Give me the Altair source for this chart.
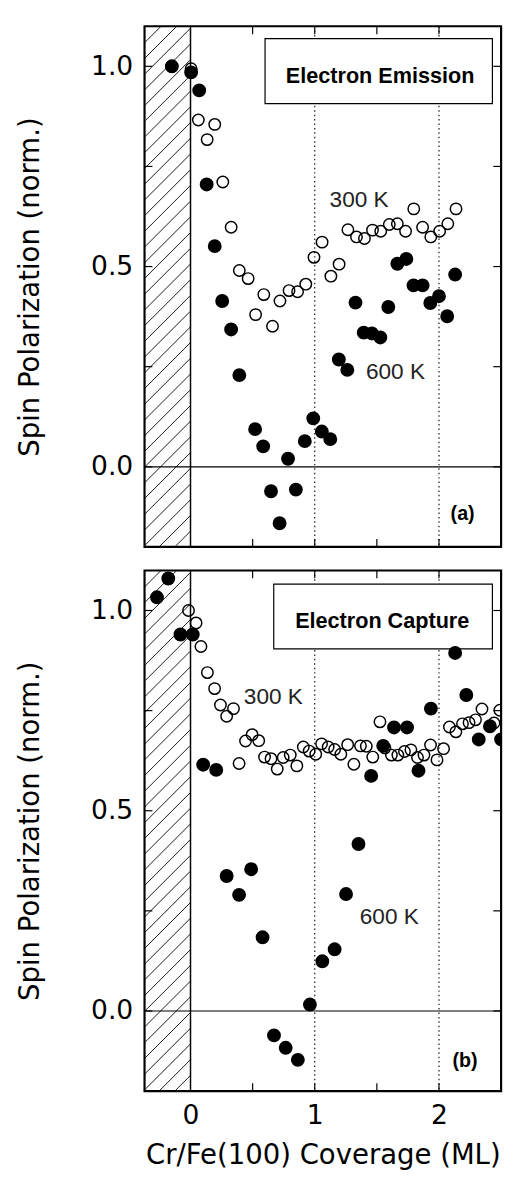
import altair as alt
import numpy as np
import pandas as pd

# ---------------- data ----------------
a_open_x = [-0.15, 0.005, 0.063, 0.134, 0.195, 0.26, 0.327, 0.393, 0.464, 0.524, 0.59, 0.66, 0.72,
            0.793, 0.862, 0.928, 0.994, 1.059, 1.13, 1.196, 1.267, 1.336, 1.40, 1.465, 1.531, 1.60,
            1.665, 1.731, 1.797, 1.868, 1.934, 2.005, 2.071, 2.137]
a_open_y = [1.00, 0.994, 0.866, 0.817, 0.855, 0.711, 0.598, 0.49, 0.47, 0.38, 0.43, 0.351, 0.414,
            0.44, 0.437, 0.456, 0.523, 0.561, 0.476, 0.506, 0.592, 0.574, 0.57, 0.591, 0.588, 0.605,
            0.607, 0.588, 0.644, 0.598, 0.574, 0.588, 0.607, 0.644]
a_fill_x = [-0.15, 0.005, 0.07, 0.13, 0.195, 0.255, 0.327, 0.393, 0.52, 0.585, 0.648, 0.717, 0.785,
            0.848, 0.92, 0.988, 1.057, 1.125, 1.194, 1.262, 1.328, 1.394, 1.46, 1.528, 1.592, 1.665,
            1.737, 1.795, 1.868, 1.93, 2.0, 2.066, 2.13]
a_fill_y = [1.00, 0.985, 0.94, 0.705, 0.551, 0.414, 0.343, 0.229, 0.094, 0.051, -0.061, -0.141, 0.02,
            -0.057, 0.064, 0.121, 0.088, 0.069, 0.268, 0.242, 0.41, 0.335, 0.333, 0.323, 0.399, 0.507,
            0.519, 0.453, 0.453, 0.409, 0.426, 0.376, 0.48]

b_open_x = [-0.016, 0.045, 0.084, 0.136, 0.194, 0.241, 0.291, 0.346, 0.391, 0.443, 0.496, 0.549, 0.596,
            0.648, 0.698, 0.746, 0.803, 0.856, 0.908, 0.955, 1.008, 1.055, 1.108, 1.16, 1.21, 1.265,
            1.315, 1.368, 1.415, 1.467, 1.525, 1.565, 1.617, 1.669, 1.722, 1.774, 1.827, 1.879, 1.932,
            1.984, 2.037, 2.084, 2.136, 2.189, 2.242, 2.294, 2.346, 2.443, 2.49]
b_open_y = [1.0, 0.969, 0.91, 0.845, 0.805, 0.764, 0.736, 0.755, 0.618, 0.674, 0.69, 0.675, 0.634,
            0.63, 0.604, 0.633, 0.639, 0.612, 0.659, 0.649, 0.641, 0.667, 0.659, 0.653, 0.641, 0.665,
            0.616, 0.662, 0.661, 0.634, 0.722, 0.657, 0.639, 0.639, 0.648, 0.652, 0.633, 0.639, 0.664,
            0.627, 0.655, 0.709, 0.697, 0.717, 0.72, 0.727, 0.754, 0.719, 0.751]
b_fill_x = [-0.27, -0.179, -0.081, 0.018, 0.102, 0.207, 0.291, 0.391, 0.488, 0.58, 0.672, 0.766, 0.864,
            0.961, 1.061, 1.16, 1.252, 1.352, 1.454, 1.551, 1.638, 1.743, 1.835, 1.935, 2.13, 2.22,
            2.32, 2.41, 2.50]
b_fill_y = [1.033, 1.08, 0.94, 0.94, 0.615, 0.602, 0.337, 0.29, 0.354, 0.184, -0.061, -0.092, -0.122,
            0.016, 0.124, 0.154, 0.292, 0.417, 0.587, 0.662, 0.708, 0.708, 0.6, 0.755, 0.894, 0.789,
            0.678, 0.711, 0.678]

x_tick_values = [0.5, 1.0, 1.5, 2.0]
y_tick_values = [0.0, 0.25, 0.5, 0.75, 1.0]
y_label_values = [0.0, 0.5, 1.0]
x_label_values = [0, 1, 2]
dotted_x = [1.0, 2.0]
substrate_edge = [0.0]
zero_line = [0.0]

panel_titles = ["Electron Emission", "Electron Capture"]
panel_tags = ["(a)", "(b)"]
box_x = [[0.60, 2.43], [0.67, 2.43]]
box_y = [[0.907, 1.069], [0.904, 1.066]]
box_text_xy = [[1.526, 0.975], [1.543, 0.973]]
lab300_xy = [[1.357, 0.667], [0.667, 0.784]]
lab600_xy = [[1.65, 0.237], [1.60, 0.234]]
tag_xy = [[2.19, -0.117], [2.21, -0.124]]

XMIN, XMAX = -0.37, 2.5
YMIN, YMAX = -0.2, 1.1
W, H = 363, 530
TICK = 8

# hatch lines for the substrate region (decorative, 45 degree lines)
kx = W / (XMAX - XMIN)
ky = H / (YMAX - YMIN)
slope = kx / ky
dy = 16 / ky
hatch = []
c = YMIN - slope * (0 - XMIN)
while c < YMAX:
    xs, ys = XMIN, c
    if ys < YMIN:
        xs, ys = XMIN + (YMIN - c) / slope, YMIN
    xe, ye = 0.0, c + slope * (0 - XMIN)
    if ye > YMAX:
        xe, ye = XMIN + (YMAX - c) / slope, YMAX
    if xs < xe:
        hatch.append({"x": xs, "y": ys, "x2": xe, "y2": ye})
    c += dy
hatch_df = pd.DataFrame(hatch)

AXFONT = "DejaVu Sans"


def panel(i, show_x):
    xscale = alt.Scale(domain=[XMIN, XMAX], nice=False, zero=False)
    yscale = alt.Scale(domain=[YMIN, YMAX], nice=False, zero=False)
    if show_x:
        xaxis = alt.Axis(values=x_label_values, format="d", ticks=False, domain=False, grid=False,
                         labelFont=AXFONT, labelFontSize=27, labelColor="black", labelPadding=12,
                         title="Cr/Fe(100) Coverage (ML)", titleFont=AXFONT, titleFontSize=28,
                         titleFontWeight="normal", titleColor="black", titlePadding=14)
    else:
        xaxis = None
    yaxis = alt.Axis(values=y_label_values, format=".1f", ticks=False, domain=False, grid=False,
                     labelFont=AXFONT, labelFontSize=27, labelColor="black", labelPadding=12,
                     title="Spin Polarization (norm.)", titleFont=AXFONT, titleFontSize=28,
                     titleFontWeight="normal", titleColor="black", titleX=-116, titleY=H / 2,
                     titleAngle=270, titleBaseline="middle", titleAlign="center")
    X = alt.X("x:Q", scale=xscale, axis=xaxis)
    Y = alt.Y("y:Q", scale=yscale, axis=yaxis)

    base = alt.Chart(pd.DataFrame({"x": [XMIN, XMAX], "y": [YMIN, YMAX]}))
    frame = base.mark_point(opacity=0).encode(x=X, y=Y)

    hatch_l = alt.Chart(hatch_df).mark_rule(color="black", strokeWidth=0.9).encode(
        x=X, y=Y, x2="x2:Q", y2="y2:Q")
    edge = alt.Chart(pd.DataFrame({"x": substrate_edge})).mark_rule(
        color="black", strokeWidth=1.5).encode(x=X)
    zero = alt.Chart(pd.DataFrame({"y": zero_line})).mark_rule(
        color="black", strokeWidth=1.2).encode(y=Y)
    dots = alt.Chart(pd.DataFrame({"x": dotted_x})).mark_rule(
        color="black", strokeWidth=1.1, strokeDash=[1.5, 3]).encode(x=X)

    box = alt.Chart(pd.DataFrame({"x": [box_x[i][0]], "x2": [box_x[i][1]],
                                  "y": [box_y[i][0]], "y2": [box_y[i][1]]})).mark_rect(
        fill="white", stroke="black", strokeWidth=1.2).encode(x=X, x2="x2:Q", y=Y, y2="y2:Q")
    box_t = alt.Chart(pd.DataFrame({"x": [box_text_xy[i][0]], "y": [box_text_xy[i][1]],
                                    "t": [panel_titles[i]]})).mark_text(
        font="Liberation Sans", fontSize=22, fontWeight="bold", color="black").encode(
        x=X, y=Y, text="t:N")

    ox = [a_open_x, b_open_x][i]
    oy = [a_open_y, b_open_y][i]
    fx = [a_fill_x, b_fill_x][i]
    fy = [a_fill_y, b_fill_y][i]
    opn = alt.Chart(pd.DataFrame({"x": ox, "y": oy})).mark_point(
        shape="circle", filled=False, stroke="black", strokeWidth=1.5, size=135, opacity=1,
        clip=True).encode(x=X, y=Y)
    fil = alt.Chart(pd.DataFrame({"x": fx, "y": fy})).mark_circle(
        color="black", size=200, opacity=1, clip=True).encode(x=X, y=Y)

    labels = alt.Chart(pd.DataFrame({
        "x": [lab300_xy[i][0], lab600_xy[i][0]],
        "y": [lab300_xy[i][1], lab600_xy[i][1]],
        "t": ["300 K", "600 K"]})).mark_text(
        font="Liberation Sans", fontSize=23, fontWeight=300, color="#222").encode(
        x=X, y=Y, text="t:N")
    tag = alt.Chart(pd.DataFrame({"x": [tag_xy[i][0]], "y": [tag_xy[i][1]],
                                  "t": [panel_tags[i]]})).mark_text(
        font="Liberation Sans", fontSize=20, fontWeight="bold", color="black").encode(
        x=X, y=Y, text="t:N")

    ydf = pd.DataFrame({"y": y_tick_values})
    xdf = pd.DataFrame({"x": x_tick_values})
    tl = alt.Chart(ydf).mark_rule(color="black", strokeWidth=1.2).encode(
        y=Y, x=alt.value(0), x2=alt.value(TICK))
    tr = alt.Chart(ydf).mark_rule(color="black", strokeWidth=1.2).encode(
        y=Y, x=alt.value(W - TICK), x2=alt.value(W))
    tt = alt.Chart(xdf).mark_rule(color="black", strokeWidth=1.2).encode(
        x=X, y=alt.value(0), y2=alt.value(TICK))
    tb = alt.Chart(xdf).mark_rule(color="black", strokeWidth=1.2).encode(
        x=X, y=alt.value(H - TICK), y2=alt.value(H))

    return alt.layer(frame, hatch_l, edge, zero, dots, box, box_t, tl, tr, tt, tb,
                     opn, fil, labels, tag).properties(width=W, height=H)


chart = alt.vconcat(panel(0, False), panel(1, True), spacing=16).properties(
    padding={"left": 7, "top": 4, "right": 2, "bottom": 2}
).configure_view(stroke="black", strokeWidth=2.2)

chart.save("out.html", embed_options={"renderer": "svg", "actions": False})
